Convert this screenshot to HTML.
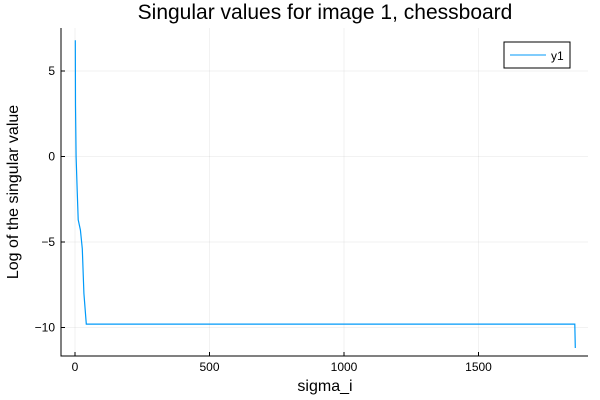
<!DOCTYPE html>
<html><head><meta charset="utf-8"><style>body{margin:0;background:#fff}svg{display:block;font-family:"Liberation Sans","DejaVu Sans",sans-serif}</style></head>
<body>
<svg id="chart" width="600" height="400" viewBox="0 0 600 400" xmlns="http://www.w3.org/2000/svg">
<text x="325" y="19" font-size="21" text-anchor="middle" fill="#000">Singular values for image 1, chessboard</text>
<g id="grid"></g>
<g id="axes"></g>
<text x="325" y="391" font-size="16" text-anchor="middle">sigma_i</text>
<text transform="translate(18,192) rotate(-90)" font-size="16" text-anchor="middle">Log of the singular value</text>
<g>
<rect x="504" y="42" width="66" height="26" fill="#fff" stroke="#000" stroke-width="1"/>
<line x1="510" y1="55" x2="546" y2="55" stroke="#009af9" stroke-width="1"/>
<text x="551" y="60" font-size="12">y1</text>
</g>
<path id="series" fill="none" stroke="#009af9" stroke-width="1.2"/>
</svg>
<script>
const xs = [1, 2, 4, 8, 12, 20, 27, 33, 42, 1858, 1860];
const ys = [6.8, 3.0, 0.0, -2.0, -3.7, -4.3, -5.4, -8.0, -9.8, -9.8, -11.2];
const xTicks = [0, 500, 1000, 1500];
const yTicks = [5, 0, -5, -10];
const X0=75, XS=0.269, Y0=156.5, YS=17.1;
const L=61, R=588, T=28, B=356;
function sx(v){return X0+v*XS;}
function sy(v){return Y0-v*YS;}
const ns="http://www.w3.org/2000/svg";
const grid=document.getElementById('grid'), axes=document.getElementById('axes');
function mk(tag,attrs,parent){const e=document.createElementNS(ns,tag);for(const k in attrs)e.setAttribute(k,attrs[k]);parent.appendChild(e);return e;}
xTicks.forEach(t=>{
  const g=mk('line',{x1:sx(t),x2:sx(t),y1:T,y2:B,stroke:'#000','stroke-opacity':0.1,'stroke-width':0.5},grid);
  
  
  const tk=mk('line',{x1:sx(t),x2:sx(t),y1:B,y2:B-4,stroke:'#000','stroke-width':1},axes);
  
  
  const lb=mk('text',{x:sx(t),y:B+15,'font-size':12,'text-anchor':'middle'},axes);
  lb.textContent=String(t);
  
  
});
yTicks.forEach(t=>{
  const g=mk('line',{x1:L,x2:R,y1:sy(t),y2:sy(t),stroke:'#000','stroke-opacity':0.1,'stroke-width':0.5},grid);
  
  
  const tk=mk('line',{x1:L,x2:L+4,y1:sy(t),y2:sy(t),stroke:'#000','stroke-width':1},axes);
  
  
  const lb=mk('text',{x:L-6,y:sy(t)+4,'font-size':12,'text-anchor':'end'},axes);
  lb.textContent=(t<0?'\u2212'+(-t):String(t));
  
  
});
const ax=mk('path',{d:`M${L},${T} L${L},${B} L${R},${B}`,fill:'none',stroke:'#000','stroke-width':1},axes);


document.getElementById('series').setAttribute('d',xs.map((x,i)=>(i?'L':'M')+sx(x).toFixed(1)+','+sy(ys[i]).toFixed(1)).join(' '));
</script>
</body></html>
